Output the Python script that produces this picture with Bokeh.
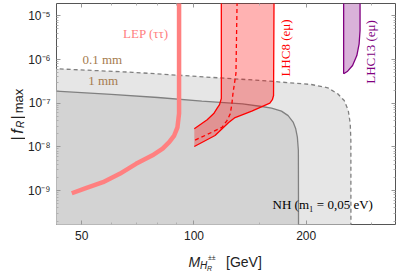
import math
from bokeh.plotting import figure
from bokeh.layouts import row, column
from bokeh.models import Label, LogAxis, FixedTicker
from bokeh.embed import file_html
from bokeh.resources import INLINE

# ---------------- data ----------------
# 1 mm displaced-vertex contour (solid grey)
mass_1mm = [40, 60, 80, 105, 135, 152, 161.5, 171.7, 178.9, 184.5, 187.5, 189.4, 190.6, 190.8]
f_1mm = [1.95e-7, 1.6e-7, 1.35e-7, 1.12e-7, 9.6e-8, 8.4e-8, 7.7e-8, 6.6e-8, 5.2e-8, 3.7e-8,
         2.6e-8, 1.67e-8, 8.3e-9, 1e-10]
# 0.1 mm contour (dashed grey)
mass_01mm = [40, 68.5, 93.1, 151.9, 206.4, 228.6, 243, 253, 259.4, 262.6, 263.6, 263.7]
f_01mm = [6.3e-7, 5.1e-7, 4.3e-7, 3.3e-7, 2.68e-7, 2.25e-7, 1.64e-7, 1.15e-7, 6.8e-8, 3.4e-8,
          1.4e-8, 1e-10]
# LEP (tau tau) bound
mass_lep = [47.0, 51.5, 57.0, 63.2, 69.9, 77.4, 82.4, 85.8, 88.5, 90.3, 91.2, 91.2]
f_lep = [8.7e-10, 1.16e-9, 1.56e-9, 2.42e-9, 4.1e-9, 6.4e-9, 9.1e-9, 1.28e-8, 1.82e-8, 2.8e-8,
         5.8e-8, 3e-5]
# LHC8 (e mu) band
lhc8_left_m = [118.4, 118.4, 117.1, 115.3, 113.0, 108.5, 100.2]
lhc8_left_f = [3e-5, 1.28e-7, 9.3e-8, 7.6e-8, 5.8e-8, 4.2e-8, 2.6e-8]
lhc8_low_m = [100.2, 113.9, 123.9, 128.9, 142.9, 159.8, 162.3, 163.5, 164.0]
lhc8_low_f = [1.02e-8, 1.82e-8, 3.6e-8, 4.7e-8, 6.6e-8, 1.0e-7, 1.2e-7, 1.5e-7, 3e-5]
lhc8_mid_m = [130.6, 129.6, 127.2, 126.4, 125.1, 122.6, 118.9, 111.8, 100.2]
lhc8_mid_f = [3e-5, 4.8e-7, 1.64e-7, 9.7e-8, 5.7e-8, 4.0e-8, 2.8e-8, 2.17e-8, 1.4e-8]
# LHC13 (e mu) region
lhc13_left_m = [252.1, 252.1]
lhc13_left_f = [3e-5, 4.7e-7]
lhc13_right_m = [252.1, 258.4, 266.4, 273.5, 277.4, 279.0, 279.0]
lhc13_right_f = [4.7e-7, 5.4e-7, 7.3e-7, 1.23e-6, 2.29e-6, 4.6e-6, 3e-5]

x_ticks = [50, 100, 200]
x_tick_labels = ["50", "100", "200"]
x_minor = [60, 70, 80, 90, 150, 300]
y_ticks = [1e-9, 1e-8, 1e-7, 1e-6, 1e-5]
y_tick_labels = ["10\u207b\u2079", "10\u207b\u2078", "10\u207b\u2077", "10\u207b\u2076", "10\u207b\u2075"]
y_minor = [m * 10.0 ** e for e in range(-10, -4) for m in range(2, 10)]

F_BOTTOM = 1e-10

# ---------------- main figure ----------------
p = figure(width=374, height=246, x_axis_type="log", y_axis_type="log",
           x_range=(42.77, 347.3), y_range=(10 ** -9.7757, 10 ** -4.7185),
           output_backend="svg", toolbar_location=None,
           min_border_left=28, min_border_right=4, min_border_top=3, min_border_bottom=22)
p.grid.visible = False
p.outline_line_color = "#555555"
p.outline_line_width = 1
p.background_fill_color = "white"
p.border_fill_color = "white"

tick_style = dict(major_tick_in=4, major_tick_out=0, minor_tick_in=2, minor_tick_out=0,
                  major_tick_line_color="#999999", minor_tick_line_color="#b0b0b0",
                  axis_line_color=None)

xa = p.xaxis[0]
xa.ticker = FixedTicker(ticks=x_ticks, minor_ticks=x_minor)
xa.major_label_overrides = dict(zip(x_ticks, x_tick_labels))
ya = p.yaxis[0]
ya.ticker = FixedTicker(ticks=y_ticks, minor_ticks=y_minor)
ya.major_label_overrides = dict(zip(y_ticks, y_tick_labels))
for ax in (xa, ya):
    for k, v in tick_style.items():
        setattr(ax, k, v)
    ax.major_label_text_font = "Liberation Sans"
    ax.major_label_text_font_size = "12px"
    ax.major_label_text_color = "#222222"
    ax.major_label_standoff = 6

for loc, tk, mn in (("above", x_ticks, x_minor), ("right", y_ticks, y_minor)):
    ax = LogAxis(ticker=FixedTicker(ticks=tk, minor_ticks=mn),
                 major_label_text_font_size="1px", major_label_text_alpha=0,
                 major_label_standoff=0, **tick_style)
    p.add_layout(ax, loc)

# regions
p.patch(mass_01mm + [40], f_01mm + [F_BOTTOM], fill_color="#e6e6e6", line_color=None)
p.patch(mass_1mm + [40], f_1mm + [F_BOTTOM], fill_color="#d3d3d3", line_color=None)
p.line(mass_01mm, f_01mm, line_color="#808080", line_width=1.3, line_dash="4 3")
p.line(mass_1mm, f_1mm, line_color="#808080", line_width=1.3)

# LEP
p.line(mass_lep, f_lep, line_color="#ff8080", line_width=4.5)

# LHC8
p.patch(lhc8_left_m + lhc8_low_m, lhc8_left_f + lhc8_low_f, fill_color="red", fill_alpha=0.3,
        line_color=None)
p.line(lhc8_left_m, lhc8_left_f, line_color="red", line_width=1.3)
p.line(lhc8_low_m, lhc8_low_f, line_color="red", line_width=1.3)
p.line(lhc8_mid_m, lhc8_mid_f, line_color="red", line_width=1.3, line_dash="4 3")

# LHC13
p.patch(lhc13_left_m + lhc13_right_m, lhc13_left_f + lhc13_right_f, fill_color="purple",
        fill_alpha=0.3, line_color=None)
p.line(lhc13_left_m, lhc13_left_f, line_color="purple", line_width=1.3)
p.line(lhc13_right_m, lhc13_right_f, line_color="purple", line_width=1.3)

serif = "Liberation Serif"
brown = "#a57b4e"
p.add_layout(Label(x=64.5, y=2.72e-6, text="LEP (\u03c4\u03c4)", text_font=serif,
                   text_font_size="13px", text_color="#ff8080"))
p.add_layout(Label(x=50.2, y=6.9e-7, text="0.1 mm", text_font=serif,
                   text_font_size="13px", text_color=brown))
p.add_layout(Label(x=52.0, y=2.17e-7, text="1 mm", text_font=serif,
                   text_font_size="13px", text_color=brown))
p.add_layout(Label(x=176.0, y=1.83e-6, text="LHC8 (e\u03bc)", text_font=serif,
                   text_font_size="13px", text_color="red", angle=math.pi / 2,
                   text_align="center", text_baseline="middle"))
p.add_layout(Label(x=298.0, y=1.49e-6, text="LHC13 (e\u03bc)", text_font=serif,
                   text_font_size="13px", text_color="purple", angle=math.pi / 2,
                   text_align="center", text_baseline="middle"))
p.add_layout(Label(x=162.5, y=3.16e-10, text="NH (m\u2081 = 0,05 eV)", text_font=serif,
                   text_font_size="13px", text_color="black"))


def blank(w, h):
    f = figure(width=w, height=h, x_range=(0, 1), y_range=(0, 1), output_backend="svg",
               toolbar_location=None, min_border=0, x_axis_location=None, y_axis_location=None)
    f.grid.visible = False
    f.outline_line_color = None
    f.background_fill_color = "white"
    f.border_fill_color = "white"
    return f


sans = "Liberation Sans"
# y-axis title |f_R|_max
ylab_fig = blank(25, 271)
ylab = [("|", 16.5, 133, "16px", "normal"), ("f", 16.5, 140, "16px", "italic"),
        ("R", 19.5, 147, "10px", "italic"), ("|", 16.5, 154, "16px", "normal"),
        ("max", 18, 170.5, "13px", "normal")]
for t, sx, sy, fs, st in ylab:
    ylab_fig.add_layout(Label(x=sx, y=sy, x_units="screen", y_units="screen", text=t,
                              text_font=sans, text_font_size=fs, text_font_style=st,
                              text_color="#222222", angle=math.pi / 2,
                              text_align="center", text_baseline="middle"))
# x-axis title M_{H_R^{++}} [GeV]  (frame of this strip is aligned with the main frame)
xlab_fig = blank(374, 25)
xlab = [("M", 132, 9.5, "14px", "italic"), ("H", 143.5, 6, "10px", "italic"),
        ("R", 150.5, 3.5, "7px", "italic"), ("\u00b1\u00b1", 151.5, 14.5, "7px", "normal"),
        ("[GeV]", 169.5, 9.5, "14px", "normal")]
for t, sx, sy, fs, st in xlab:
    xlab_fig.add_layout(Label(x=sx, y=sy, x_units="screen", y_units="screen", text=t,
                              text_font=sans, text_font_size=fs, text_font_style=st,
                              text_color="#222222", text_align="left",
                              text_baseline="alphabetic"))

layout = row(ylab_fig, column(p, xlab_fig))
open("out.html", "w").write(file_html(layout, INLINE))
